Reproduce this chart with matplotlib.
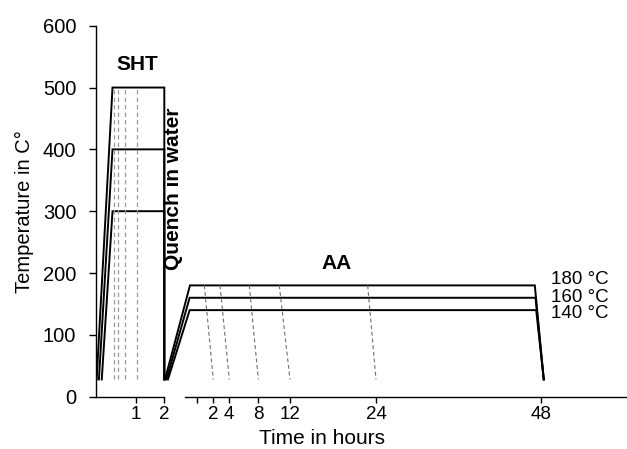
#Heat treatment schedule: solution heat treatment (SHT), quench, artificial ageing (AA)
import numpy as np
import matplotlib
matplotlib.use('Agg')
import matplotlib.pyplot as plt

plt.rcParams['font.family'] = ['Liberation Sans', 'DejaVu Sans']

room_temp = 28

#SHT part (hours on the left piece of the time axis)
sht_temps = [500, 400, 300]
sht_ramp_start = [-0.39, -0.31, -0.21]
sht_hold_start = 0.17
sht_end = 2.0
sht_dash_hours = [0.23, 0.35, 0.62, 1.05]
sht_ticks = [1, 2]
sht_tick_labels = ['1', '2']

#AA part (hours on the right piece of the time axis)
aa_temps = [180, 160, 140]
aa_ramp_start = [-3.82, -3.64, -3.46]
aa_hold_start = [-0.81, -0.85, -0.85]
aa_hold_end = [47.1, 47.2, 47.3]
aa_end = 48.4
aa_dash_top = [0.92, 2.84, 6.76, 10.65, 22.84]
aa_dash_bottom = [2, 4, 8, 12, 24]
aa_labels = ['180 °C', '160 °C', '140 °C']
aa_ticks = [0, 2, 4, 8, 12, 24, 48]
aa_tick_labels = ['', '2', '4', '8', '12', '24', '48']

#x axis is drawn in screen-like units, each piece has its own scale
def sht_x(h):
    return 107.7 + 28.3*np.asarray(h, float)

aa_knots = [196.7, 213.3, 229.3, 258.3, 290, 376, 541]
def aa_x(h):
    h = np.asarray(h, float)
    x = np.interp(h, aa_ticks, aa_knots)
    x = np.where(h < 0, 196.7 + 8.3*h, x)
    x = np.where(h > 48, 541 + 6.875*(h - 48), x)
    return x

fig = plt.figure(figsize=(6.27, 4.49), dpi=100)
ax = fig.add_axes([95.7/627, 1 - 396.7/449, (627 - 95.7)/627, 371/449])

#SHT curves + quench
for T, s in zip(sht_temps, sht_ramp_start):
    ax.plot(sht_x([s, sht_hold_start, sht_end, sht_end]), [room_temp, T, T, room_temp],
            color='black', lw=1.4, solid_joinstyle='miter')
for d in sht_dash_hours:
    ax.plot(sht_x([d, d]), [room_temp, max(sht_temps)], color='#9a9a9a', lw=0.9, dashes=(3.5, 2.5))

#AA curves
for T, rs, hs, he in zip(aa_temps, aa_ramp_start, aa_hold_start, aa_hold_end):
    ax.plot(aa_x([rs, hs, he, aa_end]), [room_temp, T, T, room_temp],
            color='black', lw=1.4, solid_joinstyle='miter')
for t, b in zip(aa_dash_top, aa_dash_bottom):
    ax.plot(aa_x([t, b]), [max(aa_temps), room_temp], color='#707070', lw=0.8, dashes=(3.5, 2.5))

label_y = [189, 161, 135]
for lab, y in zip(aa_labels, label_y):
    ax.text(float(aa_x(aa_end)) + 7, y, lab, fontsize=13.5, va='center', ha='left')

ax.text(137.5, 537, 'SHT', fontsize=15, fontweight='bold', ha='center', va='center')
ax.text(173.5, 337, 'Quench in water', fontsize=15, fontweight='bold', rotation=90,
        ha='center', va='center')
ax.text(336.7, 216, 'AA', fontsize=15, fontweight='bold', ha='center', va='center')

#axes
ax.set_xlim(95.7, 627)
ax.set_ylim(0, 600)
ax.set_yticks(range(0, 601, 100))
ax.tick_params(axis='y', labelsize=14.5, length=5, width=1, pad=9)
xt = list(sht_x(sht_ticks)) + list(aa_x(aa_ticks))
ax.set_xticks(xt, sht_tick_labels + aa_tick_labels)
ax.tick_params(axis='x', labelsize=13.5, length=4.5, width=1, pad=2)

for sp in ['top', 'right', 'bottom']:
    ax.spines[sp].set_visible(False)
ax.spines['left'].set_bounds(0, 600)
ax.spines['left'].set_linewidth(1)
ax.plot([95.7, float(sht_x(2))], [0, 0], color='black', lw=1, clip_on=False)
ax.plot([185, 627], [0, 0], color='black', lw=1, clip_on=False)

ax.set_ylabel('Temperature in C°', fontsize=14.5)
ax.yaxis.set_label_coords(-0.117, 0.5)
ax.set_xlabel('Time in hours', fontsize=15)
ax.xaxis.label.set_va('center')
ax.xaxis.set_label_coords(0.4256, -0.114)

fig.savefig('out.png', dpi=100)
